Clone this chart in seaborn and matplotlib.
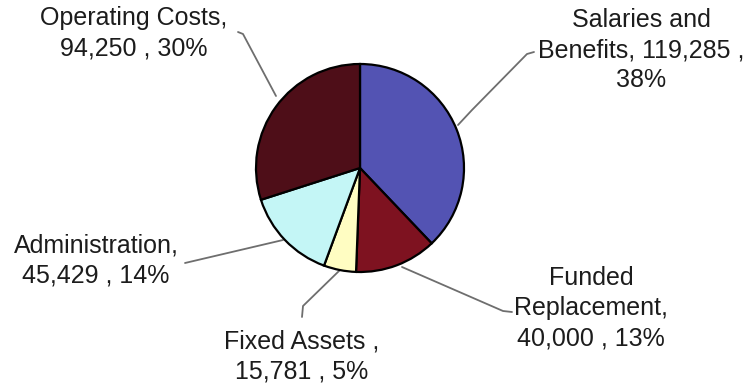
import matplotlib
matplotlib.use("Agg")
import matplotlib.pyplot as plt
import seaborn as sns

sns.set_theme(style="white")
plt.rcParams["font.family"] = ["Liberation Sans", "DejaVu Sans"]

# Budget breakdown
categories = ["Salaries and\nBenefits", "Funded\nReplacement", "Fixed Assets ",
              "Administration", "Operating Costs"]
values = [119285, 40000, 15781, 45429, 94250]
percents = [38, 13, 5, 14, 30]
colors = ["#5353B3", "#7E1220", "#FFFDC2", "#C4F6F6", "#4E0E18"]

W, H = 749, 387
fig = plt.figure(figsize=(W / 100, H / 100), dpi=100)
ax = fig.add_axes([0, 0, 1, 1])

cx, cy, r = 360, H - 168, 104
ax.pie(values, colors=colors, startangle=90, counterclock=False,
       center=(cx, cy), radius=r, frame=True,
       wedgeprops=dict(edgecolor="black", linewidth=1.6))
ax.set_xlim(0, W)
ax.set_ylim(0, H)
ax.set_aspect("equal")
ax.axis("off")

# label text, anchor of text block (x, top y in pixel rows), leader line
labels = [
    "Salaries and\nBenefits, {v} ,\n{p}%",
    "Funded\nReplacement,\n{v} , {p}%",
    "Fixed Assets ,\n{v} , {p}%",
    "Administration,\n{v} , {p}%",
    "Operating Costs,\n{v} , {p}%",
]
text_pos = [(641, 8), (591, 266), (302, 329), (96, 233), (134, 6)]
leaders = [
    [(534, 52), (527, 54), (472, 110), (458, 125)],
    [(512, 312), (503, 311), (402, 267)],
    [(302, 317), (303, 306), (340, 270)],
    [(185, 263), (283, 240)],
    [(238, 32), (243, 34), (276, 96)],
]

for lab, v, p, (tx, ty), pts in zip(labels, values, percents, text_pos, leaders):
    ax.text(tx, H - ty, lab.format(v=f"{v:,}", p=p), ha="center", va="top",
            fontsize=18, color="#1c1c1c", linespacing=1.32)
    xs = [q[0] for q in pts]
    ys = [H - q[1] for q in pts]
    ax.plot(xs, ys, color="#6e6e6e", linewidth=1.3, zorder=0)

fig.savefig("out.png", dpi=100)
